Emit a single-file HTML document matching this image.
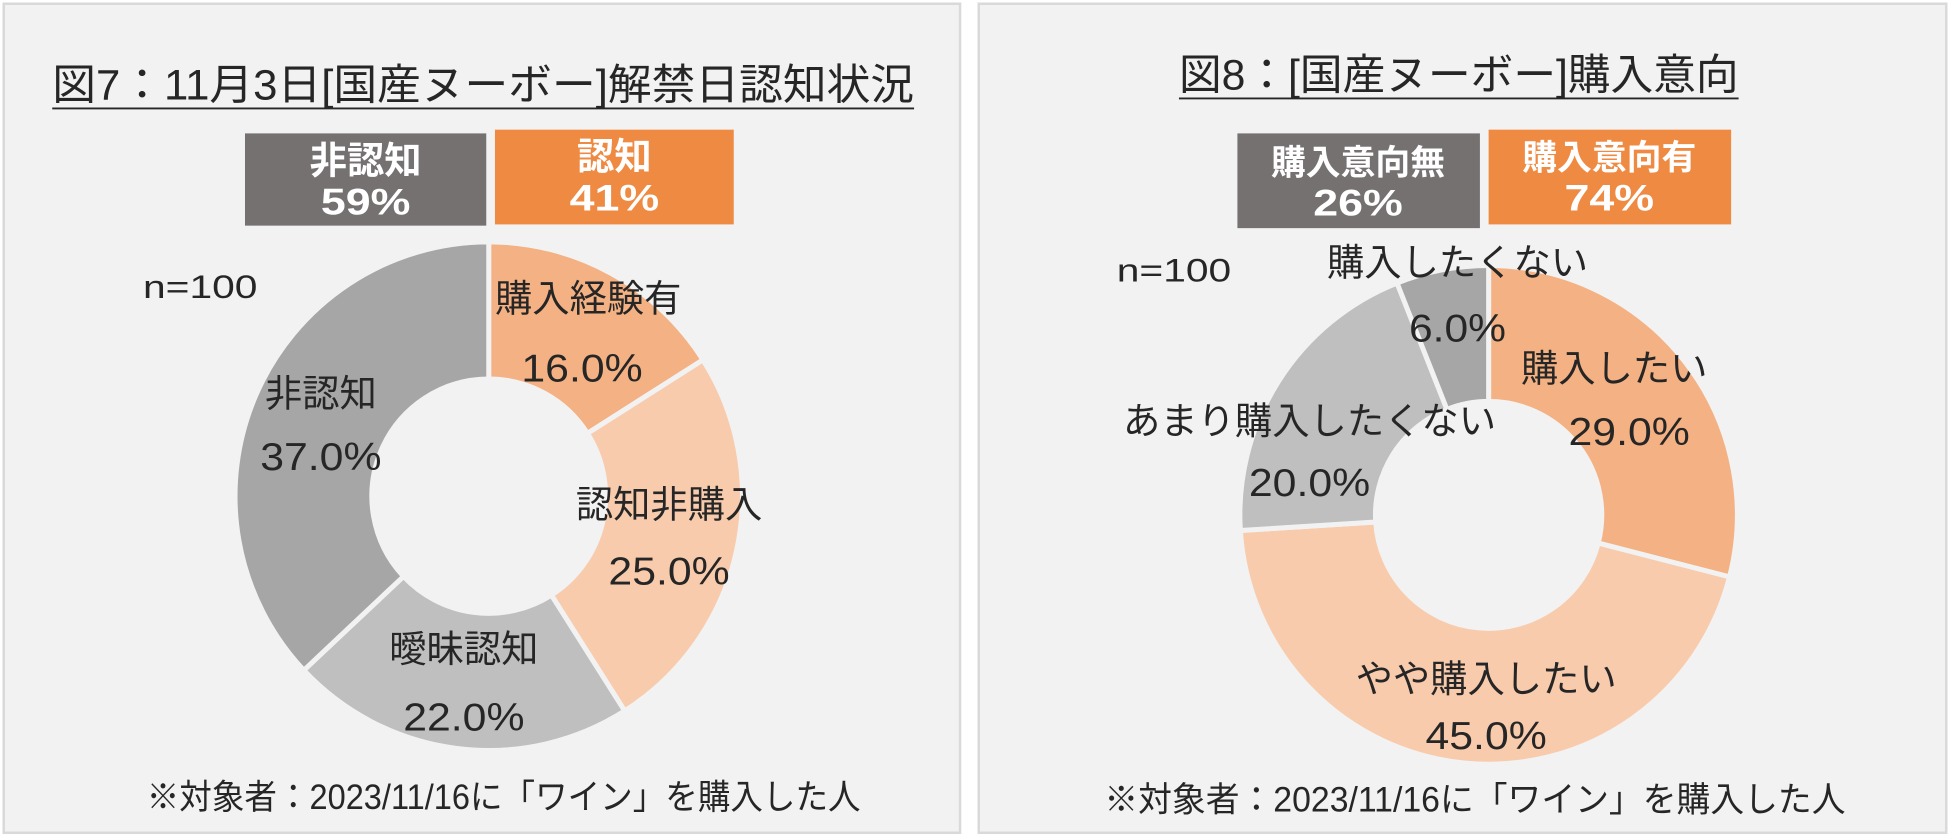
<!DOCTYPE html>
<html><head><meta charset="utf-8"><style>
html,body{margin:0;padding:0;background:#fff;}
svg{display:block;}
text{font-family:"Liberation Sans","Noto Sans CJK JP",sans-serif;}
</style></head><body>
<svg id="chart" width="1950" height="839" viewBox="0 0 1568 673" preserveAspectRatio="none" xmlns="http://www.w3.org/2000/svg">
<rect x="3" y="3" width="769" height="665" fill="#f2f2f2" stroke="#d9d9d9" stroke-width="2"/>
<rect x="787" y="3" width="778" height="665" fill="#f2f2f2" stroke="#d9d9d9" stroke-width="2"/>
<text x="42" y="80" font-size="34" fill="#262626" textLength="693" lengthAdjust="spacingAndGlyphs">図7：11月3日[国産ヌーボー]解禁日認知状況</text>
<line x1="42" y1="87" x2="735" y2="87" stroke="#262626" stroke-width="1.5"/>
<text x="948" y="72" font-size="34" fill="#262626" textLength="450" lengthAdjust="spacingAndGlyphs">図8：[国産ヌーボー]購入意向</text>
<line x1="948" y1="79" x2="1398" y2="79" stroke="#262626" stroke-width="1.5"/>

<rect x="197" y="107" width="194" height="74" fill="#767171"/>
<text x="294" y="139" font-size="30" font-weight="bold" fill="#fff" text-anchor="middle">非認知</text>
<text x="294" y="172" font-size="30" font-weight="bold" fill="#fff" text-anchor="middle" textLength="72" lengthAdjust="spacingAndGlyphs">59%</text>
<rect x="398" y="104" width="192" height="76" fill="#ef8a43"/>
<text x="494" y="136" font-size="30" font-weight="bold" fill="#fff" text-anchor="middle">認知</text>
<text x="494" y="169" font-size="30" font-weight="bold" fill="#fff" text-anchor="middle" textLength="72" lengthAdjust="spacingAndGlyphs">41%</text>

<rect x="995" y="107" width="195" height="76" fill="#767171"/>
<text x="1092" y="140" font-size="28" font-weight="bold" fill="#fff" text-anchor="middle">購入意向無</text>
<text x="1092" y="173" font-size="30" font-weight="bold" fill="#fff" text-anchor="middle" textLength="72" lengthAdjust="spacingAndGlyphs">26%</text>
<rect x="1197" y="104" width="195" height="76" fill="#ef8a43"/>
<text x="1294" y="136" font-size="28" font-weight="bold" fill="#fff" text-anchor="middle">購入意向有</text>
<text x="1294" y="169" font-size="30" font-weight="bold" fill="#fff" text-anchor="middle" textLength="72" lengthAdjust="spacingAndGlyphs">74%</text>

<text x="161" y="239" font-size="26" fill="#262626" text-anchor="middle" textLength="92" lengthAdjust="spacingAndGlyphs">n=100</text>
<text x="944" y="226" font-size="26" fill="#262626" text-anchor="middle" textLength="92" lengthAdjust="spacingAndGlyphs">n=100</text>
<text x="118" y="649" font-size="28" fill="#262626" textLength="574" lengthAdjust="spacingAndGlyphs">※対象者：2023/11/16に「ワイン」を購入した人</text>
<text x="888" y="651" font-size="28" fill="#262626" textLength="596" lengthAdjust="spacingAndGlyphs">※対象者：2023/11/16に「ワイン」を購入した人</text>
<g id="leftDonut"></g>
<g id="rightDonut"></g>
</svg>
<script>
const leftCategories = ["購入経験有","認知非購入","曖昧認知","非認知"];
const leftValues = [16.0, 25.0, 22.0, 37.0];
const rightCategories = ["購入したい","やや購入したい","あまり購入したくない","購入したくない"];
const rightValues = [29.0, 45.0, 20.0, 6.0];

const NS="http://www.w3.org/2000/svg";
function drawDonut(g, cats, vals, cfg){
  const total = vals.reduce((a,b)=>a+b,0);
  let a0 = 0;
  vals.forEach((v,i)=>{
    const a1 = a0 + v/total*2*Math.PI;
    const pt=(r,a)=>[cfg.cx+r*Math.sin(a), cfg.cy-r*Math.cos(a)];
    const [x1,y1]=pt(cfg.ro,a0),[x2,y2]=pt(cfg.ro,a1),[x3,y3]=pt(cfg.ri,a1),[x4,y4]=pt(cfg.ri,a0);
    const big = (a1-a0)>Math.PI?1:0;
    const p=document.createElementNS(NS,"path");
    p.setAttribute("d",`M${x1},${y1}A${cfg.ro},${cfg.ro} 0 ${big} 1 ${x2},${y2}L${x3},${y3}A${cfg.ri},${cfg.ri} 0 ${big} 0 ${x4},${y4}Z`);
    p.setAttribute("fill",cfg.colors[i]);
    p.setAttribute("stroke","#f2f2f2");
    p.setAttribute("stroke-width","4");
    
    
    g.appendChild(p);
    a0=a1;
  });
  cats.forEach((c,i)=>{
    const l=cfg.labels[i];
    const t1=document.createElementNS(NS,"text");
    t1.setAttribute("x",l[0]);t1.setAttribute("y",l[1]+10);
    t1.setAttribute("font-size","30");t1.setAttribute("fill","#262626");t1.setAttribute("text-anchor","middle");
    t1.textContent=c;
    
    
    g.appendChild(t1);
    const t2=document.createElementNS(NS,"text");
    const s=vals[i].toFixed(1)+"%";
    t2.setAttribute("x",l[2]);t2.setAttribute("y",l[3]+11);
    t2.setAttribute("font-size","31");t2.setAttribute("fill","#262626");t2.setAttribute("text-anchor","middle");
    t2.setAttribute("textLength", String(s.length*19.5));
    t2.setAttribute("lengthAdjust","spacingAndGlyphs");
    t2.textContent=s;
    
    
    g.appendChild(t2);
  });
}
drawDonut(document.getElementById("leftDonut"), leftCategories, leftValues, {
  cx:393, cy:398, ro:204, ri:94,
  colors:["#f4b183","#f8cbad","#bfbfbf","#a6a6a6"],
  labels:[[473,240,468,295],[538,405,538,458],[373,521,373,575],[258,316,258,366]]
});
drawDonut(document.getElementById("rightDonut"), rightCategories, rightValues, {
  cx:1197, cy:413, ro:200, ri:91,
  colors:["#f4b183","#f8cbad","#bfbfbf","#a6a6a6"],
  labels:[[1298,296,1310,346],[1195,545,1195,590],[1053,338,1053,387],[1172,211,1172,263]]
});
</script>
</body></html>
